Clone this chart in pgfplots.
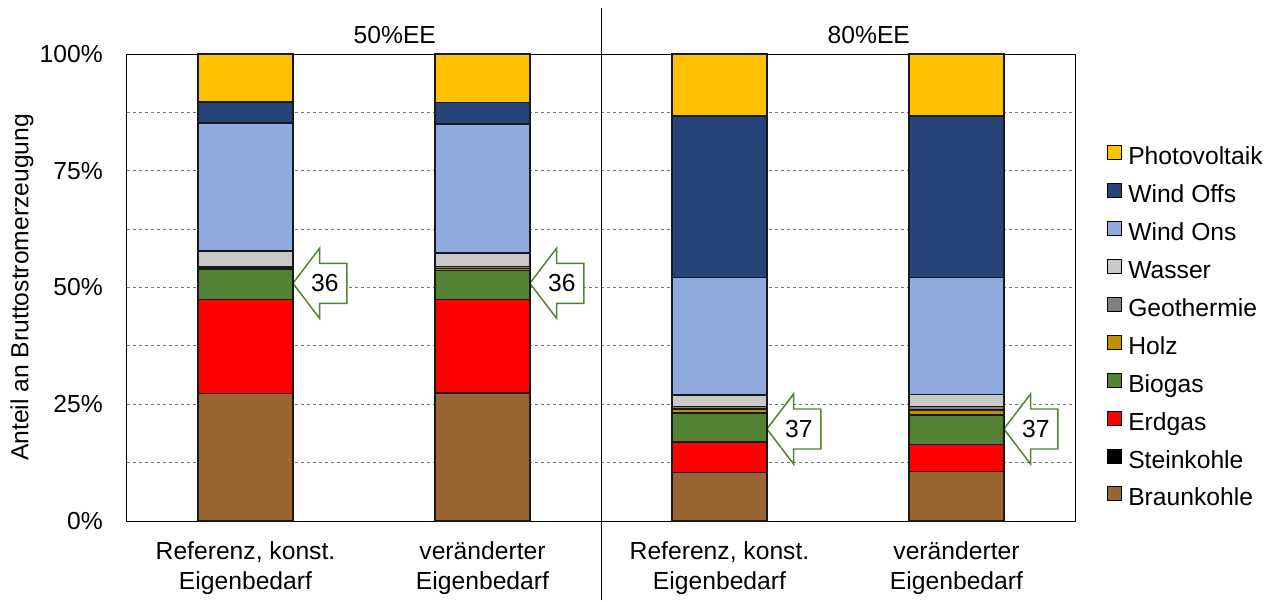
\documentclass[border=0pt]{standalone}
\usepackage{pgfplots}
\pgfplotsset{compat=1.18}
\usepackage{fontspec}
\setmainfont{Liberation Sans}
\definecolor{cPV}{RGB}{255,192,0}
\definecolor{cOff}{RGB}{38,68,120}
\definecolor{cOns}{RGB}{143,170,220}
\definecolor{cWas}{RGB}{201,201,201}
\definecolor{cGeo}{RGB}{128,128,128}
\definecolor{cHolz}{RGB}{191,144,0}
\definecolor{cBio}{RGB}{84,130,53}
\definecolor{cErd}{RGB}{255,0,0}
\definecolor{cStein}{RGB}{0,0,0}
\definecolor{cBraun}{RGB}{153,102,51}
\definecolor{cArrow}{RGB}{84,130,53}
\newcommand{\myfont}{\fontsize{18.5}{22.5}\selectfont}
\pgfplotsset{every axis plot post/.append style={draw=black!90, line width=1pt,
  legend image code/.code={\draw[##1, draw=black, line width=0.75pt] (0pt,-0.5pt) rectangle (10.5pt,10pt);}}}
\begin{document}
\begin{tikzpicture}
\useasboundingbox (0pt,0pt) rectangle (959.25pt,450.75pt);
\begin{axis}[
  at={(95.25pt,60pt)}, anchor=south west,
  scale only axis, width=711pt, height=350.25pt,
  font=\myfont,
  ybar stacked, bar width=71.25pt,
  xmin=-0.5, xmax=3.5, ymin=0, ymax=100,
  xtick={0,1,2,3},
  xticklabels={{Referenz, konst.\\Eigenbedarf},{veränderter\\Eigenbedarf},{Referenz, konst.\\Eigenbedarf},{veränderter\\Eigenbedarf}},
  xticklabel style={align=center, anchor=north, inner sep=0pt, yshift=-15.5pt, font=\myfont},
  ytick={0,25,50,75,100},
  yticklabels={0\%,25\%,50\%,75\%,100\%},
  yticklabel style={anchor=east, inner sep=0pt, xshift=-18pt, font=\myfont},
  minor ytick={12.5,25,37.5,50,62.5,75,87.5},
  yminorgrids,
  minor grid style={black!55, line width=0.75pt, dash pattern=on 2.25pt off 2.25pt},
  major tick length=0pt, minor tick length=0pt,
  axis line style={black, line width=0.75pt},
  ylabel={Anteil an Bruttostromerzeugung},
  every axis y label/.style={at={(axis description cs:0,0.5)}, xshift=-78.75pt, rotate=90, anchor=center, font=\myfont},
  clip=false,
  reverse legend,
  legend cell align=left,
  legend style={at={(axis description cs:1,0.805)}, anchor=north west, xshift=24pt,
    draw=none, fill=none, inner sep=0pt, row sep=9.8pt, column sep=4.5pt,
    font=\myfont,
    nodes={inner sep=0pt, text height=12.5pt, text depth=4pt}},
]
\addplot[fill=cBraun] coordinates {(0,27.3) (1,27.4) (2,10.4) (3,10.6)};
\addlegendentry{Braunkohle}
\addplot[fill=cStein] coordinates {(0,0) (1,0) (2,0) (3,0)};
\addlegendentry{Steinkohle}
\addplot[fill=cErd] coordinates {(0,20.2) (1,20.0) (2,6.5) (3,5.8)};
\addlegendentry{Erdgas}
\addplot[fill=cBio] coordinates {(0,6.4) (1,6.3) (2,6.2) (3,6.3)};
\addlegendentry{Biogas}
\addplot[fill=cHolz] coordinates {(0,0.3) (1,0.4) (2,0.9) (3,1.1)};
\addlegendentry{Holz}
\addplot[fill=cGeo] coordinates {(0,0.3) (1,0.4) (2,0.5) (3,0.7)};
\addlegendentry{Geothermie}
\addplot[fill=cWas] coordinates {(0,3.3) (1,2.9) (2,2.5) (3,2.6)};
\addlegendentry{Wasser}
\addplot[fill=cOns] coordinates {(0,27.4) (1,27.6) (2,25.1) (3,25.0)};
\addlegendentry{Wind Ons}
\addplot[fill=cOff] coordinates {(0,4.5) (1,4.6) (2,34.6) (3,34.6)};
\addlegendentry{Wind Offs}
\addplot[fill=cPV] coordinates {(0,10.3) (1,10.4) (2,13.3) (3,13.3)};
\addlegendentry{Photovoltaik}
% callout arrows
\draw[cArrow, line width=1.1pt, fill=white] (axis cs:0.2,50.9) -- ++(20pt,26.25pt) -- ++(0pt,-11.25pt) -- ++(20.5pt,0pt) -- ++(0pt,-30pt) -- ++(-20.5pt,0pt) -- ++(0pt,-11.25pt) -- cycle
  (axis cs:0.2,50.9) ++(24pt,0pt) node[text=black, font=\myfont] {36};
\draw[cArrow, line width=1.1pt, fill=white] (axis cs:1.2,50.9) -- ++(20pt,26.25pt) -- ++(0pt,-11.25pt) -- ++(20.5pt,0pt) -- ++(0pt,-30pt) -- ++(-20.5pt,0pt) -- ++(0pt,-11.25pt) -- cycle
  (axis cs:1.2,50.9) ++(24pt,0pt) node[text=black, font=\myfont] {36};
\draw[cArrow, line width=1.1pt, fill=white] (axis cs:2.2,19.7) -- ++(20pt,26.25pt) -- ++(0pt,-11.25pt) -- ++(20.5pt,0pt) -- ++(0pt,-30pt) -- ++(-20.5pt,0pt) -- ++(0pt,-11.25pt) -- cycle
  (axis cs:2.2,19.7) ++(24pt,0pt) node[text=black, font=\myfont] {37};
\draw[cArrow, line width=1.1pt, fill=white] (axis cs:3.2,19.7) -- ++(20pt,26.25pt) -- ++(0pt,-11.25pt) -- ++(20.5pt,0pt) -- ++(0pt,-30pt) -- ++(-20.5pt,0pt) -- ++(0pt,-11.25pt) -- cycle
  (axis cs:3.2,19.7) ++(24pt,0pt) node[text=black, font=\myfont] {37};
% separator and panel titles
\draw[black, line width=0.75pt] (axis cs:1.5,0) ++(0pt,-59.25pt) -- ++(0pt,444pt);
\node[anchor=base, yshift=8pt, font=\myfont] at (axis cs:0.63,100) {50\%EE};
\node[anchor=base, yshift=8pt, font=\myfont] at (axis cs:2.63,100) {80\%EE};
\end{axis}
\end{tikzpicture}
\end{document}
